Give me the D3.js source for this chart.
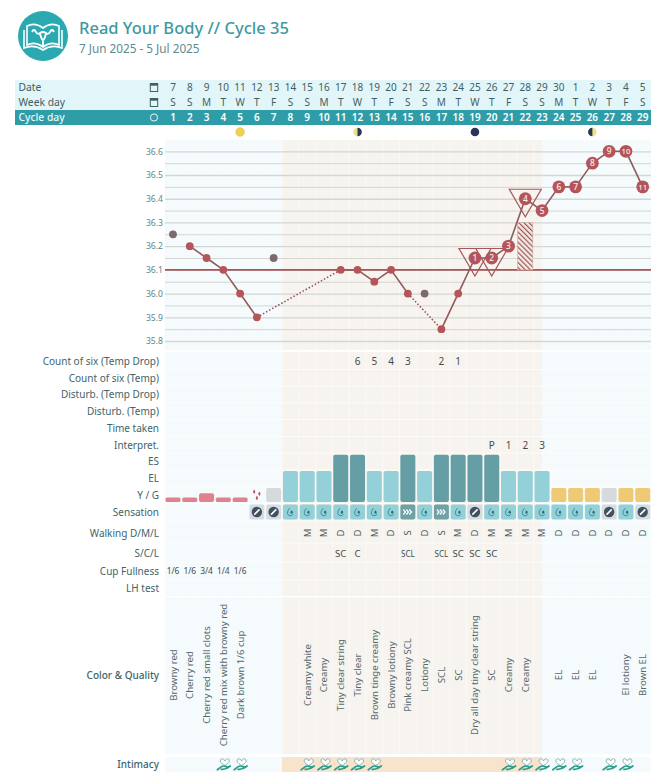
<!DOCTYPE html>
<html><head><meta charset="utf-8">
<script src="https://cdnjs.cloudflare.com/ajax/libs/d3/7.9.0/d3.min.js"></script>
<style>html,body{margin:0;padding:0;background:#fff}svg{display:block}text{font-family:"Noto Sans",sans-serif}</style>
</head><body><svg id="c" width="664" height="774"></svg>
<script>
const dates=[7,8,9,10,11,12,13,14,15,16,17,18,19,20,21,22,23,24,25,26,27,28,29,30,1,2,3,4,5];
const weekdays=["S","S","M","T","W","T","F","S","S","M","T","W","T","F","S","S","M","T","W","T","F","S","S","M","T","W","T","F","S"];
const cycleDays=d3.range(1,30);
const temps=[36.25,36.2,36.15,36.1,36.0,35.9,36.15,null,null,null,36.1,36.1,36.05,36.1,36.0,36.0,35.85,36.0,36.15,36.15,36.2,36.4,36.35,36.45,36.45,36.55,36.6,36.6,36.45];
const excludedDays=[1,7,16];
const highNumbers=[null,null,null,null,null,null,null,null,null,null,null,null,null,null,null,null,null,null,1,2,3,4,5,6,7,8,9,10,11];
const peakTriangleDays=[19,20,22];
const tempTickValues=d3.range(0,17).map(i=>+(35.8+i*0.05).toFixed(2));
const coverline=36.1;
const hatchDay=22, hatchRange=[36.1,36.3];
const fertileDays=[8,23];
const moonPhases=[[5,"full"],[12,"first"],[19,"new"],[26,"last"]];
const rowLabels=["Count of six (Temp Drop)","Count of six (Temp)","Disturb. (Temp Drop)","Disturb. (Temp)","Time taken","Interpret.","ES","EL","Y / G","Sensation","Walking D/M/L","S/C/L","Cup Fullness","LH test","Color & Quality","Intimacy"];
const countDrop=[null,null,null,null,null,null,null,null,null,null,null,"6","5","4","3",null,"2","1"];
const interpret={20:"P",21:"1",22:"2",23:"3"};
const bars=["low","low","mid","low","low",null,"G","EL","EL","EL","ES","ES","EL","EL","ES","EL","ES","ES","ES","ES","EL","EL","EL","Y","Y","Y","G","Y","Y"];
const spottingDay=6;
const sensation=[null,null,null,null,null,"dry","dry","wet","wet","wet","wet","wet","wet","wet","slip","wet","slip","wet","dry","wet","wet","wet","wet","wet","wet","wet","dry","wet","dry"];
const walking=[null,null,null,null,null,null,null,null,"M","M","D","D","M","D","S","D","S","M","D","M","M","M","M","D","D","D","D","D","D"];
const scl={11:"SC",12:"C",15:"SCL",17:"SCL",18:"SC",19:"SC",20:"SC"};
const cup={1:"1/6",2:"1/6",3:"3/4",4:"1/4",5:"1/6"};
const colorQuality={1:"Browny red",2:"Cherry red",3:"Cherry red small clots",4:"Cherry red mix with browny red",5:"Dark brown 1/6 cup",9:"Creamy white",10:"Creamy",11:"Tiny clear string",12:"Tiny clear",13:"Brown tinge creamy",14:"Browny lotiony",15:"Pink creamy SCL",16:"Lotiony",17:"SCL",18:"SC",19:"Dry all day tiny clear string",20:"SC",21:"Creamy",22:"Creamy",24:"EL",25:"EL",26:"EL",28:"El lotiony",29:"Brown EL"};
const intimacyDays=[4,5,9,10,11,12,13,21,22,23,24,25,27,28];

const svg=d3.select("#c");
const x=d3.scalePoint().domain(cycleDays).range([173,642.7]);
const y=d3.scaleLinear().domain([35.8,36.6]).range([341,151.3]);
const L=165,R=651,step=x.step();
const rowY=d3.scaleOrdinal().domain(rowLabels).range([361,378,394.5,411,428,445,461.5,478,495,512,533,553,571,588,675,764]);
const rowEdges=[352,369.5,386,403,419.5,436.5,453,470,486.5,503.5,521,543,562,580,597,755];

const defs=svg.append("defs");
const pat=defs.append("pattern").attr("id","hatch").attr("width",3.6).attr("height",3.6).attr("patternUnits","userSpaceOnUse").attr("patternTransform","rotate(-45)");
pat.append("rect").attr("width",3.6).attr("height",3.6).attr("fill","#f3ebe4");
pat.append("rect").attr("width",1.2).attr("height",3.6).attr("fill","#a05256");

// header
const logo=svg.append("g").attr("transform","translate(43,36)");
logo.append("circle").attr("r",25).attr("fill","#2aaab0");
logo.append("path").attr("d","M-16,-10 Q-8,-14 0,-8 Q8,-14 16,-10 L16,9 Q8,5 0,11 Q-8,5 -16,9 Z M-19,-6 V12 Q-9,8 0,14 Q9,8 19,12 V-6").attr("fill","none").attr("stroke","#fff").attr("stroke-width",1.6);
logo.append("path").attr("d","M-11,-4 Q-9,-8 -7,-4 Q-5,-1 -3,-3 Q0,-5 3,-3 Q5,-1 7,-4 Q9,-8 11,-4 M-3,-3 Q-2,3 0,4 V10 M3,-3 Q2,3 0,4").attr("fill","none").attr("stroke","#fff").attr("stroke-width",1.8);
svg.append("text").attr("x",79).attr("y",33.5).attr("font-size",16.5).attr("font-weight",500).attr("fill","#3c9aa3").text("Read Your Body // Cycle 35");
svg.append("text").attr("x",79).attr("y",52.5).attr("font-size",11.75).attr("fill","#5e8a90").text("7 Jun 2025 - 5 Jul 2025");

// table header
const head=[["Date",80,dates,"#e2f5f8","#3e5f63",400],["Week day",95,weekdays,"#e2f5f8","#3e5f63",400],["Cycle day",110,cycleDays,"#2f9da8","#fff",600]];
head.forEach(([lab,top,vals,bg,fg,w])=>{
  svg.append("rect").attr("x",15).attr("y",top).attr("width",636).attr("height",15).attr("fill",bg);
  svg.append("text").attr("x",18.5).attr("y",top+11).attr("font-size",10.3).attr("font-weight",lab=="Cycle day"?500:400).attr("fill",lab=="Cycle day"?"#e8f7f8":"#3e5f63").text(lab);
  svg.append("g").selectAll("text").data(vals).join("text").attr("x",(d,i)=>x(i+1)).attr("y",top+11.2).attr("text-anchor","middle").attr("font-size",10).attr("font-weight",w).attr("fill",fg).text(d=>d);
  if(lab=="Cycle day") svg.append("circle").attr("cx",154).attr("cy",top+7.5).attr("r",3.6).attr("fill","none").attr("stroke","#e8f7f8").attr("stroke-width",1);
  else { const g=svg.append("g").attr("transform",`translate(154,${top+7.5})`);
    g.append("rect").attr("x",-3.7).attr("y",-4).attr("width",7.4).attr("height",8).attr("fill","none").attr("stroke","#3e5f63").attr("stroke-width",1);
    g.append("rect").attr("x",-3.7).attr("y",-4).attr("width",7.4).attr("height",2.2).attr("fill","#3e5f63"); }
});

// moons
moonPhases.forEach(([d,p])=>{
  const g=svg.append("g").attr("transform",`translate(${x(d)},132)`);
  const r=4.3;
  if(p=="full") g.append("circle").attr("r",r).attr("fill","#eed24a").attr("stroke","#e5b85a").attr("stroke-width",.6);
  if(p=="new") g.append("circle").attr("r",r).attr("fill","#27365a");
  if(p=="first"||p=="last"){
    g.append("circle").attr("r",r).attr("fill","#f0e08a");
    const s=p=="first"?1:0;
    g.append("path").attr("d",`M0,${-r} A${r},${r} 0 0 ${s} 0,${r} Z`).attr("fill","#27365a");
  }
});

// backgrounds
const bands=[[140,350],[352,596],[597,754],[757,772]];
bands.forEach(([a,b],i)=>{
  svg.append("rect").attr("x",L).attr("y",a).attr("width",R-L).attr("height",b-a).attr("fill","#f5fafc");
  svg.append("rect").attr("x",x(fertileDays[0])-step/2).attr("y",a).attr("width",x(fertileDays[1])-x(fertileDays[0])+step/2).attr("height",b-a).attr("fill",i==3?"#f8e3cc":"#f7f4ef");
  svg.append("g").selectAll("line").data(cycleDays.slice(1)).join("line").attr("x1",d=>x(d)-step/2).attr("x2",d=>x(d)-step/2).attr("y1",a).attr("y2",b).attr("stroke","#fff").attr("stroke-width",1).attr("stroke-opacity",i==3?0:.45);
});
svg.append("g").selectAll("line").data(rowEdges.slice(1,-1)).join("line").attr("x1",L).attr("x2",R).attr("y1",d=>d).attr("y2",d=>d).attr("stroke","#fff").attr("stroke-width",1).attr("stroke-opacity",.7);

// temp axis + grid
const ax=d3.axisLeft(y).tickValues(tempTickValues).tickSize(-(R-L)).tickPadding(3).tickFormat(d=>Math.round(d*100)%10==0?d.toFixed(1):"");
const ag=svg.append("g").attr("transform",`translate(${L},0)`).call(ax);
ag.select(".domain").remove();
ag.selectAll("line").attr("stroke","#d3d6d4").attr("stroke-width",d=>Math.round(d*100)%10==0?1.3:1);
ag.selectAll("text").attr("font-size",8.6).attr("fill","#5d878c").attr("x",-2);

// coverline
svg.append("line").attr("x1",L).attr("x2",R).attr("y1",y(coverline)).attr("y2",y(coverline)).attr("stroke","#aa5558").attr("stroke-width",1.6);
// hatch
svg.append("rect").attr("x",x(hatchDay)-step/2+.8).attr("width",step-1.6).attr("y",y(hatchRange[1])).attr("height",y(hatchRange[0])-y(hatchRange[1])).attr("fill","url(#hatch)").attr("stroke","#c9a9a4").attr("stroke-width",.6);

// triangles
const pts=cycleDays.map((d,i)=>({d,t:temps[i],n:highNumbers[i],ex:excludedDays.includes(d)})).filter(p=>p.t!=null);
svg.append("g").selectAll("path").data(peakTriangleDays).join("path").attr("d",d=>{const px=x(d),py=y(temps[d-1]);return `M${px-16},${py-9.5}H${px+16}L${px},${py+18}Z`;}).attr("fill","none").attr("stroke","#a5585b").attr("stroke-width",1.2);

// line
const used=pts.filter(p=>!p.ex);
const line=d3.line().x(p=>x(p.d)).y(p=>y(p.t));
d3.pairs(used).forEach(([a,b])=>{
  const adj=b.d-a.d==1;
  svg.append("path").attr("d",line([a,b])).attr("fill","none").attr("stroke",adj?"#8f5a5c":"#96494e").attr("stroke-width",adj?1.6:1.5).attr("stroke-dasharray",adj?null:"1.5,2");
});
svg.append("g").selectAll("circle").data(pts).join("circle").attr("cx",p=>x(p.d)).attr("cy",p=>y(p.t)).attr("r",p=>p.n?6.4:3.9).attr("fill",p=>p.ex?"#7c6a6d":"#b4555a");
svg.append("g").selectAll("text").data(pts.filter(p=>p.n)).join("text").attr("x",p=>x(p.d)).attr("y",p=>y(p.t)+3).attr("text-anchor","middle").attr("font-size",p=>p.n>9?7.6:8.4).attr("font-weight",500).attr("fill","#fbeeee").text(p=>p.n);

// row labels
svg.append("g").selectAll("text").data(rowLabels).join("text").attr("x",159).attr("y",d=>rowY(d)+3.6).attr("text-anchor","end").attr("font-size",10).attr("font-weight",d=>["Color & Quality","Intimacy"].includes(d)?500:400).attr("fill","#3f6468").text(d=>d);

function textRow(label,obj,size,color){
  const items=Object.entries(obj).map(([k,v])=>[+k,v]);
  svg.append("g").selectAll("text").data(items).join("text").attr("x",d=>x(d[0])).attr("y",rowY(label)+size*.37).attr("text-anchor","middle").attr("font-size",size).attr("fill",color).text(d=>d[1]);
}
const cd={};countDrop.forEach((v,i)=>{if(v)cd[i+1]=v;});
textRow(rowLabels[0],cd,10,"#3f4c4e");
textRow("Interpret.",interpret,10,"#3f4c4e");
textRow("Cup Fullness",cup,8.4,"#3f4c4e");
svg.append("g").selectAll("text").data(Object.entries(scl)).join("text").attr("x",d=>x(+d[0])).attr("y",rowY("S/C/L")+3.5).attr("text-anchor","middle").attr("font-size",d=>d[1]=="SCL"?8:9.6).attr("fill","#3f4c4e").text(d=>d[1]);
// walking
svg.append("g").selectAll("text").data(walking.map((v,i)=>[i+1,v]).filter(d=>d[1])).join("text").attr("transform",d=>`translate(${x(d[0])+3.3},${rowY("Walking D/M/L")}) rotate(-90)`).attr("text-anchor","middle").attr("font-size",9.5).attr("fill","#4a5a5c").text(d=>d[1]);
// colour text
svg.append("g").selectAll("text").data(Object.entries(colorQuality)).join("text").attr("transform",d=>`translate(${x(+d[0])+3.5},${rowY("Color & Quality")}) rotate(-90)`).attr("text-anchor","middle").attr("font-size",9.6).attr("fill","#54696c").text(d=>d[1]);

// bars
const barH=d3.scaleOrdinal().domain(["low","mid","G","Y","EL","ES"]).range([4.5,8.7,14,14,31,47.3]);
const barC=d3.scaleOrdinal().domain(["low","mid","G","Y","EL","ES"]).range(["#e0828e","#e0828e","#d6dadc","#efca74","#93d0d8","#659ea5"]);
const barBase=502;
svg.append("g").selectAll("rect").data(bars.map((b,i)=>[i+1,b]).filter(d=>d[1])).join("rect").attr("x",d=>x(d[0])-7.5).attr("width",15).attr("y",d=>barBase-barH(d[1])).attr("height",d=>barH(d[1])).attr("rx",d=>d[1]=="low"?1.5:2).attr("fill",d=>barC(d[1]));
// spotting
[[-2.7,-3],[2.5,-1],[0,3.2]].forEach(([dx,dy])=>{
  svg.append("path").attr("transform",`translate(${x(spottingDay)+dx},${495+dy})`).attr("d","M0,-2.4 Q2.2,0.4 0,1.8 Q-2.2,0.4 0,-2.4Z").attr("fill","#c4525f");
});

// sensation
const chip=svg.append("g").selectAll("g").data(sensation.map((s,i)=>[i+1,s]).filter(d=>d[1])).join("g").attr("transform",d=>`translate(${x(d[0])},${rowY("Sensation")})`);
chip.append("rect").attr("x",-7.5).attr("y",-7.5).attr("width",15).attr("height",15).attr("rx",2).attr("fill",d=>({dry:"#d6dcdf",wet:"#93d0d8",slip:"#6fa1a6"})[d[1]]);
chip.filter(d=>d[1]=="dry").each(function(){const g=d3.select(this);
  g.append("circle").attr("r",5.2).attr("fill","#3f5060");
  g.append("line").attr("x1",-2.6).attr("y1",2.6).attr("x2",2.6).attr("y2",-2.6).attr("stroke","#fff").attr("stroke-width",1.6);});
chip.filter(d=>d[1]=="wet").each(function(){const g=d3.select(this);
  g.append("path").attr("d","M-0.8,-3.8 Q-3.6,-0.5 -2.9,1.6 A3,3 0 0 0 2.6,2.2").attr("fill","none").attr("stroke","#2b7f88").attr("stroke-width",.8);
  g.append("path").attr("d","M1.2,-1.8 Q3.2,0.4 2.2,1.3 Q1.2,2 0.2,1.3 Q-0.8,0.4 1.2,-1.8Z").attr("fill","#1f6f7c");});
chip.filter(d=>d[1]=="slip").each(function(){const g=d3.select(this);
  [-3.5,-0.5,2.5].forEach(o=>g.append("path").attr("d",`M${o-1},-2.5 L${o+1.2},0 L${o-1},2.5`).attr("fill","none").attr("stroke","#fff").attr("stroke-width",1.2));});

// intimacy
const inti=svg.append("g").selectAll("g").data(intimacyDays).join("g").attr("transform",d=>`translate(${x(d)+1},${rowY("Intimacy")})`);
inti.append("path").attr("d","M0.5,-3 C-0.3,-6 -4.5,-6 -4,-2.8 C-3.7,-1 -1,0.6 0.5,1.5 C2,0.6 4.7,-1 5,-2.8 C5.5,-6 1.3,-6 0.5,-3Z").attr("fill","#fbfbfa").attr("stroke","#6fa8a8").attr("stroke-width",.8);
inti.append("path").attr("d","M-7,5.8 L-2.5,2.4 Q-1,1.6 1,2.4 L3.5,3 M-3,5.3 Q1.5,5.8 6,2").attr("fill","none").attr("stroke","#2a9d8f").attr("stroke-width",1.7).attr("stroke-linecap","round");
</script></body></html>
